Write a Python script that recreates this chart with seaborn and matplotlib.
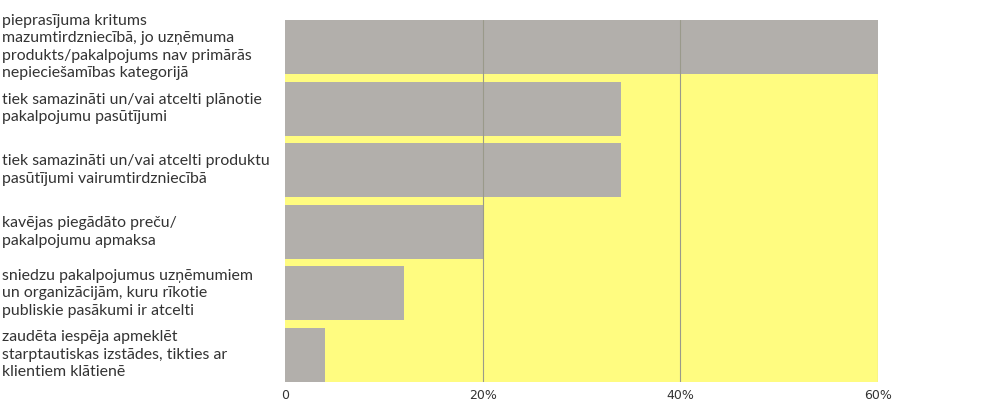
import matplotlib
matplotlib.use("Agg")
import matplotlib.pyplot as plt
import matplotlib.transforms as mtransforms
import pandas as pd
import seaborn as sns

# data (share of respondents, %)
categories = [
    "pieprasījuma kritums\nmazumtirdzniecībā, jo uzņēmuma\nprodukts/pakalpojums nav primārās\nnepieciešamības kategorijā",
    "tiek samazināti un/vai atcelti plānotie\npakalpojumu pasūtījumi",
    "tiek samazināti un/vai atcelti produktu\npasūtījumi vairumtirdzniecībā",
    "kavējas piegādāto preču/\npakalpojumu apmaksa",
    "sniedzu pakalpojumus uzņēmumiem\nun organizācijām, kuru rīkotie\npubliskie pasākumi ir atcelti",
    "zaudēta iespēja apmeklēt\nstarptautiskas izstādes, tikties ar\nklientiem klātienē",
]
values = [60, 34, 34, 20, 12, 4]
tick_values = [0, 20, 40, 60]
tick_labels = ["0", "20%", "40%", "60%"]

BAR = "#b2afab"
BG = "#fffc80"
GRID = "#9a9a8a"
TEXT = "#333333"

sns.set_style("white")
plt.rcParams["font.family"] = ["Lato", "DejaVu Sans"]

df = pd.DataFrame({"cat": categories, "val": values})

fig = plt.figure(figsize=(10.07, 4.16), dpi=100)
ax = fig.add_axes([285 / 1007, 1 - 382 / 416, 593 / 1007, 362 / 416])

width = 0.88
sns.barplot(data=df, y="cat", x="val", orient="h", color=BAR,
            width=width, saturation=1, linewidth=0, edgecolor="none",
            ax=ax, zorder=3)

ax.set_facecolor(BG)
ax.set_xlim(0, 60)
ax.set_ylim(len(values) - 1 + width / 2, -width / 2)
for v in tick_values[1:]:
    ax.axvline(v, color=GRID, lw=0.8, zorder=4 if v < 60 else 2)

for s in ax.spines.values():
    s.set_visible(False)

ax.set_xticks(tick_values)
ax.set_xticklabels(tick_labels, fontsize=9, color=TEXT, family="DejaVu Sans")
ax.tick_params(axis="x", length=0, pad=5)
ax.set_yticks([])
ax.set_xlabel("")
ax.set_ylabel("")

trans = mtransforms.blended_transform_factory(fig.transFigure, ax.transData)
for i, label in enumerate(categories):
    ax.text(2 / 1007, i, label, transform=trans, ha="left", va="center",
            fontsize=11.4, color=TEXT, linespacing=1.32)

fig.savefig("out.png", dpi=100)
